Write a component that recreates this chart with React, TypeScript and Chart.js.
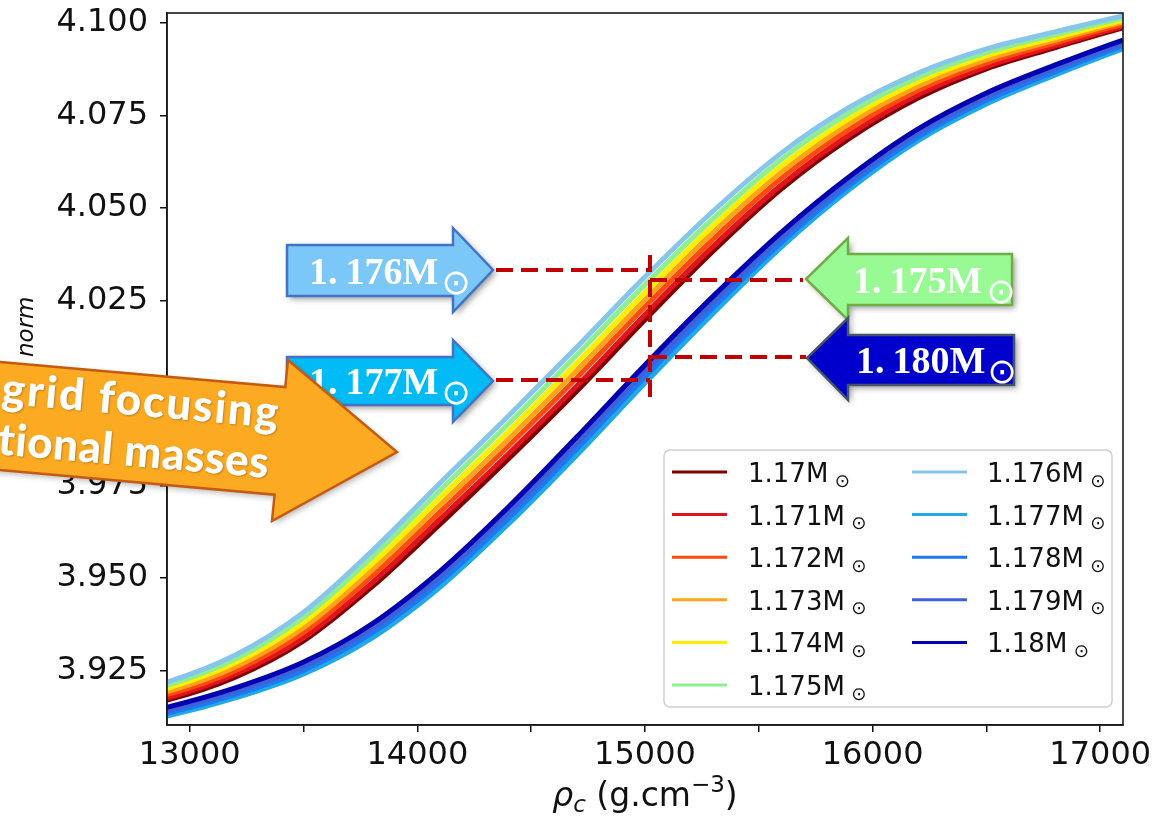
import { useEffect, useRef } from "react";
import { Chart, registerables } from "chart.js";

Chart.register(...registerables);

// Central density grid, g.cm^-3 (first and last points lie just outside the plotted range)
const densities = [12600, 12900, 13200, 13500, 13800, 14100, 14400, 14700, 15000, 15300, 15600, 15900, 16200, 16500, 16800, 17100, 17400];

// Normalised quantity for each stellar mass
const m1170 = [3.9134, 3.917, 3.9232, 3.933, 3.9476, 3.9646, 3.9822, 4.0005, 4.0198, 4.0384, 4.0552, 4.0689, 4.0797, 4.0876, 4.0933, 4.0987, 4.1028];
const m1171 = [3.9139, 3.9176, 3.924, 3.9339, 3.9487, 3.966, 3.9836, 4.0019, 4.0212, 4.0397, 4.0563, 4.0699, 4.0806, 4.0882, 4.0938, 4.0991, 4.1032];
const m1172 = [3.9147, 3.9185, 3.925, 3.9353, 3.9505, 3.9679, 3.9857, 4.0041, 4.0233, 4.0416, 4.0581, 4.0714, 4.0818, 4.0892, 4.0946, 4.0996, 4.1036];
const m1173 = [3.9154, 3.9193, 3.926, 3.9366, 3.9521, 3.9698, 3.9876, 4.0061, 4.0252, 4.0435, 4.0597, 4.0729, 4.0829, 4.0901, 4.0953, 4.1002, 4.1041];
const m1174 = [3.9161, 3.9202, 3.9271, 3.938, 3.9538, 3.9717, 3.9896, 4.0081, 4.0272, 4.0453, 4.0614, 4.0743, 4.0841, 4.0911, 4.096, 4.1007, 4.1046];
const m1175 = [3.9169, 3.921, 3.9281, 3.9394, 3.9556, 3.9737, 3.9917, 4.0103, 4.0293, 4.0472, 4.0632, 4.0758, 4.0853, 4.092, 4.0968, 4.1013, 4.1051];
const m1176 = [3.9176, 3.9219, 3.9292, 3.9408, 3.9573, 3.9757, 3.9938, 4.0124, 4.0314, 4.0492, 4.0649, 4.0773, 4.0865, 4.093, 4.0976, 4.1019, 4.1057];
const m1177 = [3.9093, 3.9127, 3.9176, 3.9241, 3.9338, 3.9476, 3.9646, 3.9832, 4.0027, 4.0216, 4.0395, 4.0551, 4.0682, 4.0781, 4.0859, 4.093, 4.0992];
const m1178 = [3.91, 3.9135, 3.9185, 3.9251, 3.9351, 3.949, 3.9661, 3.9849, 4.0044, 4.0231, 4.0408, 4.0563, 4.0692, 4.0791, 4.0868, 4.0938, 4.1];
const m1179 = [3.9107, 3.9143, 3.9194, 3.9262, 3.9363, 3.9505, 3.9677, 3.9865, 4.006, 4.0247, 4.0422, 4.0574, 4.0703, 4.0801, 4.0877, 4.0946, 4.1007];
const m1180 = [3.9114, 3.9151, 3.9203, 3.9273, 3.9376, 3.9519, 3.9692, 3.9881, 4.0076, 4.0262, 4.0435, 4.0586, 4.0714, 4.0811, 4.0886, 4.0954, 4.1014];

const masses = ["1.17", "1.171", "1.172", "1.173", "1.174", "1.175", "1.176", "1.177", "1.178", "1.179", "1.18"];
const massSeries = [m1170, m1171, m1172, m1173, m1174, m1175, m1176, m1177, m1178, m1179, m1180];
const massColors = ["#800000", "#E0141E", "#FF4A10", "#FFA31A", "#FFEE00", "#90EE90", "#87C6EB", "#20A8E8", "#1E78F0", "#4060D8", "#0000B0"];

const xTickValues = [13000, 13500, 14000, 14500, 15000, 15500, 16000, 16500, 17000];
const yTickValues = [3.925, 3.95, 3.975, 4.0, 4.025, 4.05, 4.075, 4.1];
const xLimits = [12900, 17100];
const yLimits = [3.9103, 4.1027];

const calloutMasses = ["1.176", "1.177", "1.175", "1.180"];
const bannerLines = ["Fine grid focusing", "on fractional masses"];

// Placement of the callout arrows drawn over the plot
const calloutLayout = [
  { x0: 287, x1: 453, top: 245, bottom: 296, headTop: 228, headBottom: 312, tipX: 493, tipY: 270, fill: "#7AC7F8", stroke: "#4472C4", textX: 309, baseline: 284, odot: [456, 283] },
  { x0: 287, x1: 453, top: 357, bottom: 405, headTop: 340, headBottom: 422, tipX: 493, tipY: 381, fill: "#00BBF6", stroke: "#4472C4", textX: 309, baseline: 394, odot: [456, 393] },
  { x0: 1012, x1: 848, top: 254, bottom: 305, headTop: 238, headBottom: 320, tipX: 806, tipY: 279, fill: "#98FA92", stroke: "#70AD47", textX: 853, baseline: 293, odot: [1001, 292] },
  { x0: 1014, x1: 848, top: 335, bottom: 385, headTop: 318, headBottom: 400, tipX: 807, tipY: 358, fill: "#0000CC", stroke: "#44546A", textX: 856, baseline: 373, odot: [1002, 372] },
];

const dashSegments = [
  [496, 270, 650, 270],
  [496, 380, 650, 380],
  [650, 255, 650, 405],
  [650, 280, 803, 280],
  [650, 357, 806, 357],
];

const SANS = '"DejaVu Sans"';

function drawOdot(ctx: CanvasRenderingContext2D, cx: number, cy: number, diameter: number, color: string) {
  ctx.save();
  ctx.font = `100px ${SANS}`;
  let m = ctx.measureText("\u2299");
  const w = m.actualBoundingBoxLeft + m.actualBoundingBoxRight || 70;
  const size = (diameter / w) * 100;
  ctx.font = `${size}px ${SANS}`;
  m = ctx.measureText("\u2299");
  ctx.fillStyle = color;
  ctx.textAlign = "left";
  ctx.textBaseline = "alphabetic";
  const x = cx - (m.actualBoundingBoxRight - m.actualBoundingBoxLeft) / 2;
  const y = cy + (m.actualBoundingBoxAscent - m.actualBoundingBoxDescent) / 2;
  ctx.fillText("\u2299", x, y);
  ctx.restore();
}

type Run = { text: string; font: string; dy?: number };

function runsWidth(ctx: CanvasRenderingContext2D, runs: Run[]) {
  let w = 0;
  for (const r of runs) {
    ctx.font = r.font;
    w += ctx.measureText(r.text).width;
  }
  return w;
}

function drawRuns(ctx: CanvasRenderingContext2D, runs: Run[], x: number, y: number) {
  let cx = x;
  for (const r of runs) {
    ctx.font = r.font;
    ctx.fillText(r.text, cx, y + (r.dy || 0));
    cx += ctx.measureText(r.text).width;
  }
}

function drawLegend(ctx: CanvasRenderingContext2D) {
  ctx.save();
  ctx.beginPath();
  ctx.roundRect(664, 450, 448, 257, 6);
  ctx.fillStyle = "rgba(255,255,255,0.85)";
  ctx.fill();
  ctx.strokeStyle = "#cfcfcf";
  ctx.lineWidth = 1.5;
  ctx.stroke();
  masses.forEach((m, i) => {
    const col = i < 6 ? 0 : 1;
    const row = i < 6 ? i : i - 6;
    const y = 472 + row * 42.6;
    const lx = col === 0 ? 672 : 912;
    const tx = col === 0 ? 748 : 987;
    ctx.strokeStyle = massColors[i];
    ctx.lineWidth = 3;
    ctx.beginPath();
    ctx.moveTo(lx, y);
    ctx.lineTo(lx + 55, y);
    ctx.stroke();
    ctx.fillStyle = "#111";
    ctx.font = `26px ${SANS}`;
    ctx.textAlign = "left";
    ctx.textBaseline = "alphabetic";
    const label = `${m}M`;
    ctx.fillText(label, tx, y + 10);
    const w = ctx.measureText(label).width;
    drawOdot(ctx, tx + w + 14, y + 9, 12, "#111");
  });
  ctx.restore();
}

function drawAxisTitles(ctx: CanvasRenderingContext2D) {
  ctx.save();
  ctx.fillStyle = "#111";
  ctx.textAlign = "left";
  ctx.textBaseline = "alphabetic";
  const xRuns: Run[] = [
    { text: "\u03c1", font: `italic 33px ${SANS}` },
    { text: "c", font: `italic 23px ${SANS}`, dy: 6 },
    { text: " (g.cm", font: `33px ${SANS}` },
    { text: "\u22123", font: `23px ${SANS}`, dy: -14 },
    { text: ")", font: `33px ${SANS}` },
  ];
  const w = runsWidth(ctx, xRuns);
  drawRuns(ctx, xRuns, 645 - w / 2, 806);

  // vertical title: main symbol with italic "norm" subscript
  ctx.font = `italic 31px ${SANS}`;
  const mainW = ctx.measureText("Q").width;
  ctx.translate(27, 370 + mainW);
  ctx.rotate(-Math.PI / 2);
  ctx.fillText("Q", 0, 0);
  ctx.font = `italic 23px ${SANS}`;
  ctx.fillText("norm", mainW + 13, 6);
  ctx.restore();
}

function drawDashes(ctx: CanvasRenderingContext2D) {
  ctx.save();
  ctx.strokeStyle = "#C00000";
  ctx.lineWidth = 4;
  ctx.setLineDash([17, 8]);
  for (const [x1, y1, x2, y2] of dashSegments) {
    ctx.beginPath();
    ctx.moveTo(x1, y1);
    ctx.lineTo(x2, y2);
    ctx.stroke();
  }
  ctx.restore();
}

function drawCallouts(ctx: CanvasRenderingContext2D) {
  calloutLayout.forEach((c, i) => {
    ctx.save();
    ctx.beginPath();
    ctx.moveTo(c.x0, c.top);
    ctx.lineTo(c.x1, c.top);
    ctx.lineTo(c.x1, c.headTop);
    ctx.lineTo(c.tipX, c.tipY);
    ctx.lineTo(c.x1, c.headBottom);
    ctx.lineTo(c.x1, c.bottom);
    ctx.lineTo(c.x0, c.bottom);
    ctx.closePath();
    ctx.shadowColor = "rgba(0,0,0,0.4)";
    ctx.shadowBlur = 6;
    ctx.shadowOffsetX = 3;
    ctx.shadowOffsetY = 3;
    ctx.fillStyle = c.fill;
    ctx.fill();
    ctx.shadowColor = "transparent";
    ctx.lineWidth = 2.5;
    ctx.lineJoin = "miter";
    ctx.strokeStyle = c.stroke;
    ctx.stroke();

    const [whole, frac] = calloutMasses[i].split(".");
    ctx.fillStyle = "#fff";
    ctx.font = 'bold 38px "Liberation Serif"';
    ctx.textAlign = "left";
    ctx.textBaseline = "alphabetic";
    const head = `${whole}.`;
    ctx.fillText(head, c.textX, c.baseline);
    const hw = ctx.measureText(head).width;
    ctx.fillText(`${frac}M`, c.textX + hw + 8, c.baseline);
    drawOdot(ctx, c.odot[0], c.odot[1], 23, "#fff");
    ctx.restore();
  });
}

function drawBanner(ctx: CanvasRenderingContext2D) {
  const slope = 0.088;
  const top = (x: number) => 362 + slope * x;
  const bot = (x: number) => 470 + 0.09 * x;
  ctx.save();
  ctx.beginPath();
  ctx.moveTo(-300, top(-300));
  ctx.lineTo(285.3, top(285.3));
  ctx.lineTo(288, 360);
  ctx.lineTo(397, 452);
  ctx.lineTo(272, 521);
  ctx.lineTo(274.6, bot(274.6));
  ctx.lineTo(-300, bot(-300));
  ctx.closePath();
  ctx.shadowColor = "rgba(0,0,0,0.3)";
  ctx.shadowBlur = 6;
  ctx.shadowOffsetX = 2;
  ctx.shadowOffsetY = 3;
  ctx.fillStyle = "#FCAA22";
  ctx.fill();
  ctx.shadowColor = "transparent";
  ctx.strokeStyle = "#C55A11";
  ctx.lineWidth = 2.5;
  ctx.lineJoin = "miter";
  ctx.stroke();

  ctx.fillStyle = "#fff";
  ctx.font = "900 44px Lato";
  ctx.textAlign = "right";
  ctx.textBaseline = "alphabetic";
  ctx.shadowColor = "rgba(0,0,0,0.25)";
  ctx.shadowBlur = 2;
  ctx.shadowOffsetX = 1;
  ctx.shadowOffsetY = 1;
  const angle = Math.atan(slope);
  const rows = [
    { x: 279, y: 428, spacing: "2px" },
    { x: 268, y: 478, spacing: "0.6px" },
  ];
  bannerLines.forEach((line, i) => {
    ctx.save();
    (ctx as any).letterSpacing = rows[i].spacing;
    ctx.translate(rows[i].x, rows[i].y);
    ctx.rotate(angle);
    ctx.fillText(line, 0, 0);
    ctx.restore();
  });
  ctx.restore();
}

const overlayPlugin = {
  id: "overlay",
  afterDraw(chart: Chart) {
    const ctx = chart.ctx;
    const a = chart.chartArea;
    ctx.save();
    ctx.strokeStyle = "#1a1a1a";
    ctx.lineWidth = 1.6;
    ctx.strokeRect(a.left, a.top, a.right - a.left, a.bottom - a.top);
    ctx.restore();
    drawLegend(ctx);
    drawAxisTitles(ctx);
    drawDashes(ctx);
    drawCallouts(ctx);
    drawBanner(ctx);
  },
};

export default function App() {
  const canvasRef = useRef<HTMLCanvasElement | null>(null);

  useEffect(() => {
    if (!canvasRef.current) return;
    const datasets = masses.map((m, i) => ({
      label: `${m}M`,
      data: densities.map((x, j) => ({ x, y: massSeries[i][j] })),
      borderColor: massColors[i],
      backgroundColor: massColors[i],
      borderWidth: 5,
      pointRadius: 0,
      fill: false,
      cubicInterpolationMode: "monotone" as const,
      order: masses.length - i,
    }));

    const chart = new Chart(canvasRef.current, {
      type: "line",
      data: { datasets },
      options: {
        animation: false,
        responsive: false,
        devicePixelRatio: 1,
        layout: { padding: { top: 13, right: 44, left: 0, bottom: 0 } },
        plugins: { legend: { display: false }, tooltip: { enabled: false } },
        scales: {
          x: {
            type: "linear",
            min: xLimits[0],
            max: xLimits[1],
            afterFit: (s: any) => {
              s.height = 96;
              s.paddingLeft = 0;
              s.paddingRight = 0;
            },
            afterBuildTicks: (s: any) => {
              s.ticks = xTickValues.map((v) => ({ value: v }));
            },
            ticks: {
              autoSkip: false,
              maxRotation: 0,
              padding: 4,
              color: "#111",
              font: { family: "DejaVu Sans", size: 32 },
              callback: (v: any) => (Number(v) % 1000 === 0 ? String(v) : ""),
            },
            grid: { drawOnChartArea: false, drawTicks: true, tickLength: 7, color: "#111", lineWidth: 1.5 },
            border: { display: true, color: "#1a1a1a", width: 1.6 },
          },
          y: {
            type: "linear",
            min: yLimits[0],
            max: yLimits[1],
            afterFit: (s: any) => {
              s.width = 167;
              s.paddingTop = 0;
              s.paddingBottom = 0;
            },
            afterBuildTicks: (s: any) => {
              s.ticks = yTickValues.map((v) => ({ value: v }));
            },
            ticks: {
              autoSkip: false,
              padding: 12,
              color: "#111",
              font: { family: "DejaVu Sans", size: 32 },
              callback: (v: any) => Number(v).toFixed(3),
            },
            grid: { drawOnChartArea: false, drawTicks: true, tickLength: 7, color: "#111", lineWidth: 1.5 },
            border: { display: true, color: "#1a1a1a", width: 1.6 },
          },
        },
      },
      plugins: [overlayPlugin],
    });
    return () => chart.destroy();
  }, []);

  return (
    <div style={{ position: "fixed", left: 0, top: 0, width: 1167, height: 821, background: "#fff" }}>
      <canvas ref={canvasRef} width={1167} height={821} />
    </div>
  );
}
